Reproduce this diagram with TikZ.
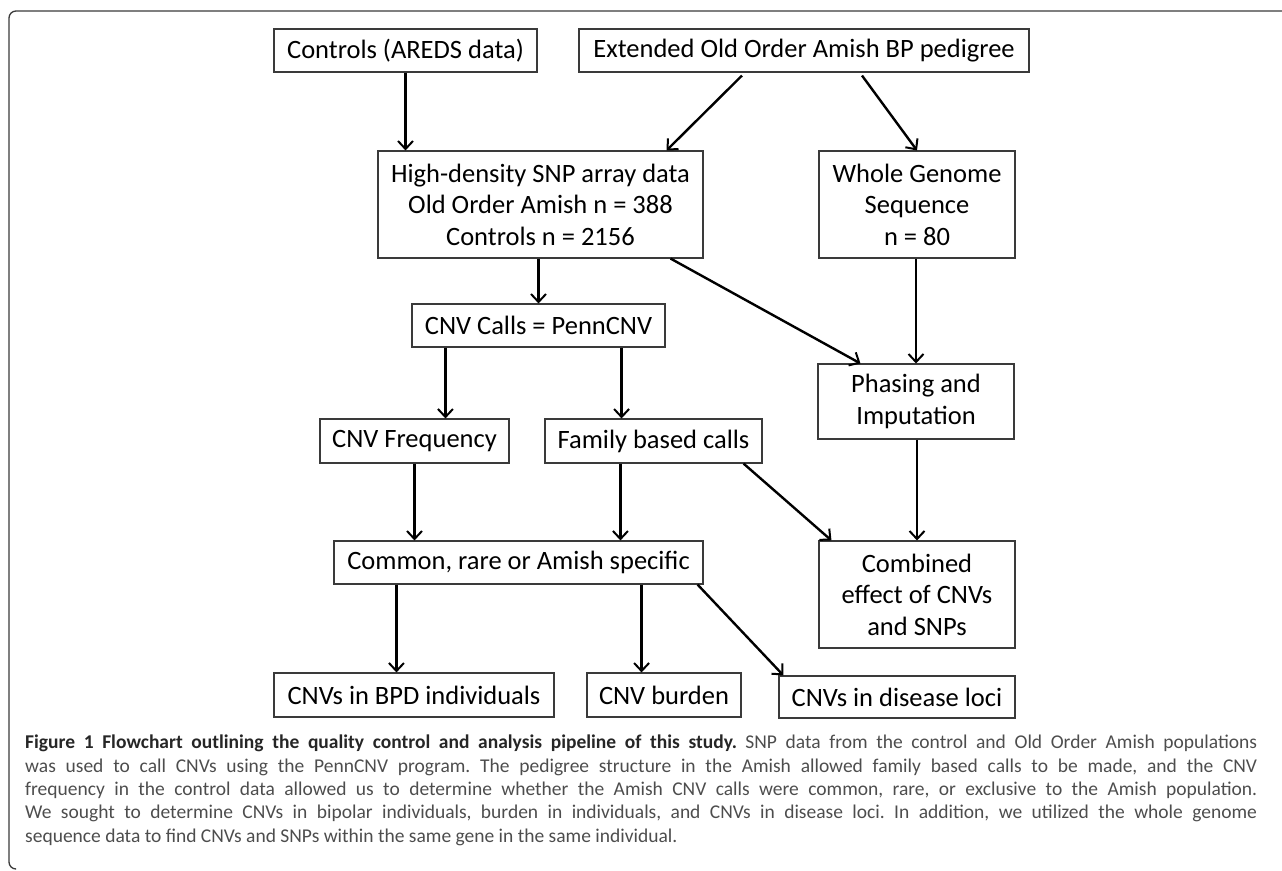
\documentclass[tikz,border=0pt]{standalone}
\usepackage{fontspec}
\usepackage{xcolor}
\usepackage{tikz}
\usetikzlibrary{arrows.meta,calc}
\setmainfont{Carlito}
\newfontfamily\flowfont{Carlito}
\definecolor{boxgray}{HTML}{3A3A3A}
\definecolor{capgray}{HTML}{4D4D4D}
\tikzset{
  flowbox/.style={draw=boxgray, line width=1.1pt, inner sep=0pt, align=center,
    font=\flowfont\fontsize{26.5}{31.5}\selectfont},
  flowarrow/.style={-{Straight Barb[length=8pt,width=15pt,line width=2pt]}, line width=2.4pt, black}
}

\begin{document}
\begin{tikzpicture}[x=1pt,y=-1pt]
                \useasboundingbox (0,0) rectangle (1282,870);
                \draw[boxgray, line width=1.3pt, rounded corners=7pt] (1282,11) -- (9,11) -- (9,869) -- (15,869);
                % boxes of the pipeline
                \node[flowbox, minimum width=263pt, minimum height=43pt] (controls) at (405.5,50.5) {Controls (AREDS data)};
                \node[flowbox, minimum width=450pt, minimum height=43pt] (pedigree) at (804,50.5) {Extended Old Order Amish BP pedigree};
                \node[flowbox, minimum width=325pt, minimum height=107pt] (snparray) at (540.5,204.5) {High-density SNP array data\\Old Order Amish n = 388\\Controls n = 2156};
                \node[flowbox, minimum width=196pt, minimum height=107pt] (genome) at (917,204.5) {Whole Genome\\Sequence\\n = 80};
                \node[flowbox, minimum width=253pt, minimum height=43pt] (penncnv) at (538.5,325.5) {CNV Calls = PennCNV};
                \node[flowbox, minimum width=196pt, minimum height=75pt] (phasing) at (916,401.5) {Phasing and\\Imputation};
                \node[flowbox, minimum width=189pt, minimum height=44pt] (frequency) at (414.5,441) {CNV Frequency};
                \node[flowbox, minimum width=217pt, minimum height=44pt] (family) at (653.5,441) {Family based calls};
                \node[flowbox, minimum width=369pt, minimum height=43pt] (common) at (518.5,562.5) {Common, rare or Amish specific};
                \node[flowbox, minimum width=196pt, minimum height=107pt] (combined) at (917,594.5) {Combined\\effect of CNVs\\and SNPs};
                \node[flowbox, minimum width=280pt, minimum height=44pt] (bpd) at (414,695) {CNVs in BPD individuals};
                \node[flowbox, minimum width=154pt, minimum height=44pt] (burden) at (664,695) {CNV burden};
                \node[flowbox, minimum width=236pt, minimum height=42pt] (loci) at (897,697) {CNVs in disease loci};
                % connectors
                \draw[flowarrow] (controls.south) -- (controls.south |- snparray.north);
                \draw[flowarrow] ($(pedigree.south)+(-62,3)$) -- ($(snparray.north)+(126,0)$);
                \draw[flowarrow] ($(pedigree.south)+(58,3)$) -- (genome.north);
                \draw[flowarrow] (snparray.south -| penncnv.north) -- (penncnv.north);
                \draw[flowarrow] ($(snparray.south east)+(-33,0)$) -- ($(phasing.north west)+(43,0)$);
                \draw[flowarrow] (genome.south -| phasing.north) -- (phasing.north);
                \draw[flowarrow] ($(penncnv.south west)+(34,0)$) coordinate (freqtop) -- (freqtop |- frequency.north);
                \draw[flowarrow] ($(penncnv.south east)+(-44,0)$) coordinate (famtop) -- (famtop |- family.north);
                \draw[flowarrow] (frequency.south) -- (frequency.south |- common.north);
                \draw[flowarrow] ($(family.south west)+(76,0)$) coordinate (famdown) -- (famdown |- common.north);
                \draw[flowarrow] ($(family.south east)+(-19,0)$) -- ($(combined.north west)+(13,0)$);
                \draw[flowarrow] (phasing.south -| combined.north) -- (combined.north);
                \draw[flowarrow] ($(common.south west)+(63,0)$) coordinate (bpdtop) -- (bpdtop |- bpd.north);
                \draw[flowarrow] ($(common.south east)+(-62,0)$) coordinate (burdentop) -- (burdentop |- burden.north);
                \draw[flowarrow] ($(common.south east)+(-6,0)$) -- ($(loci.north west)+(5,0)$);
                % caption
                \node[anchor=north west, inner sep=0pt, text width=1232pt, align=justify, text=capgray,
                      font=\frenchspacing\fontsize{19.5}{23.3}\selectfont] (caption) at (25,735)
                  {\textcolor{black!85}{\textbf{Figure 1 Flowchart outlining the quality control and analysis pipeline of this study.}} SNP data from the control and Old Order Amish populations\linebreak
                   was used to call CNVs using the PennCNV program. The pedigree structure in the Amish allowed family based calls to be made, and the CNV\linebreak
                   frequency in the control data allowed us to determine whether the Amish CNV calls were common, rare, or exclusive to the Amish population.\linebreak
                   We sought to determine CNVs in bipolar individuals, burden in individuals, and CNVs in disease loci. In addition, we utilized the whole genome\linebreak
                   sequence data to find CNVs and SNPs within the same gene in the same individual.};
            \end{tikzpicture}
\end{document}
